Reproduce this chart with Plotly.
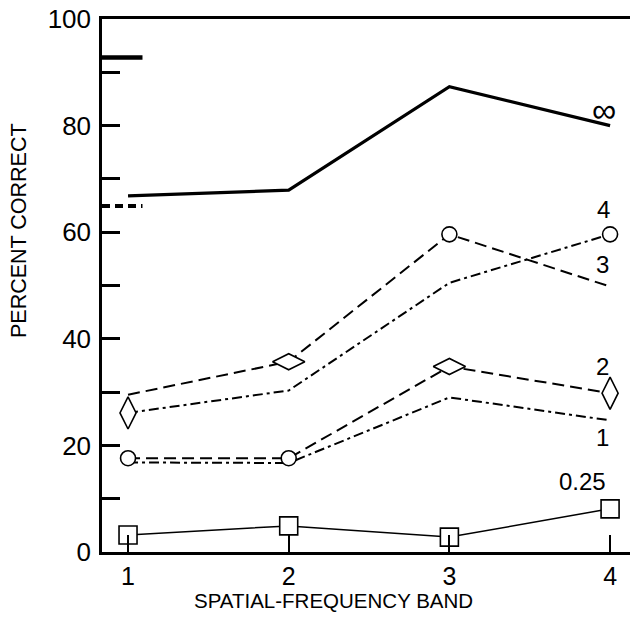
import plotly.graph_objects as go

bands = [1, 2, 3, 4]

# series values (percent correct)
inf_vals = [66.8, 67.9, 87.3, 80.0]
s3_vals = [29.5, 35.7, 59.6, 49.8]     # dashed, label "3"
s4_vals = [26.1, 30.3, 50.5, 59.6]     # dash-dot, label "4"
s2_vals = [17.6, 17.6, 34.8, 29.8]     # dashed, label "2"
s1_vals = [16.8, 16.7, 29.0, 24.7]     # dash-dot, label "1"
s025_vals = [3.2, 4.9, 2.8, 8.1]       # solid thin w/ squares, label "0.25"

# reference levels shown as short bars at the left
ref_solid = 92.8
ref_dashed = 64.9

series_labels = ["∞", "4", "3", "2", "1", "0.25"]
label_sizes = [34, 24, 24, 24, 24, 24]
label_y = [83.0, 64.3, 54.0, 34.8, 21.4, 13.2]
label_x = [3.96, 3.96, 3.95, 3.95, 3.95, 3.83]

y_tick_vals = list(range(0, 101, 10))
y_tick_text = [str(v) if v % 20 == 0 else "" for v in y_tick_vals]

XMIN, XMAX = 0.838, 4.124
FONT = "Liberation Sans, Arial, sans-serif"

fig = go.Figure()

def line(x, y, dash="solid", width=2.0):
    fig.add_trace(go.Scatter(x=x, y=y, mode="lines",
                             line=dict(color="black", width=width, dash=dash),
                             showlegend=False, hoverinfo="skip"))

def markers(idx, vals, symbol, size):
    fig.add_trace(go.Scatter(x=[bands[i] for i in idx], y=[vals[i] for i in idx],
                             mode="markers",
                             marker=dict(symbol=symbol, size=size, color="white",
                                         line=dict(color="black", width=1.6)),
                             showlegend=False, hoverinfo="skip", cliponaxis=False))

DASH = "12px,6px"
DASHDOT = "10px,4px,3px,4px"

line(bands, inf_vals, "solid", 3.2)
line(bands, s3_vals, DASH, 2.0)
line(bands, s4_vals, DASHDOT, 2.0)
line(bands, s2_vals, DASH, 2.0)
line(bands, s1_vals, DASHDOT, 2.0)
line(bands, s025_vals, "solid", 1.5)

# short reference bars
line([XMIN, 1.09], [ref_solid, ref_solid], "solid", 4.5)
line([XMIN, 1.09], [ref_dashed, ref_dashed], "8px,5px", 4.0)

# markers
markers([1], s3_vals, "diamond-wide", 23)
markers([2], s3_vals, "circle", 15)
markers([0], s4_vals, "diamond-tall", 23)
markers([3], s4_vals, "circle", 15)
markers([0, 1], s2_vals, "circle", 15)
markers([2], s2_vals, "diamond-wide", 23)
markers([3], s2_vals, "diamond-tall", 23)
markers([0, 1, 2, 3], s025_vals, "square", 18)

W, H = 630, 634
L, R, T, B = 102, 0, 19, 82
pw, ph = W - L - R, H - T - B

def px_to_paper(x, y):
    return (x - L) / pw, (H - B - y) / ph

annotations = []
for t, sz, xx, yy in zip(series_labels, label_sizes, label_x, label_y):
    annotations.append(dict(x=xx, y=yy, xref="x", yref="y", text=t, showarrow=False,
                            font=dict(family=FONT, size=sz, color="black"),
                            xanchor="center", yanchor="middle"))
tx, ty = px_to_paper(333, 600)
annotations.append(dict(x=tx, y=ty, xref="paper", yref="paper", text="SPATIAL-FREQUENCY BAND",
                        showarrow=False, xanchor="center", yanchor="middle",
                        font=dict(family=FONT, size=20.5, color="black")))
tx, ty = px_to_paper(19, 231)
annotations.append(dict(x=tx, y=ty, xref="paper", yref="paper", text="PERCENT CORRECT",
                        textangle=-90, showarrow=False, xanchor="center", yanchor="middle",
                        font=dict(family=FONT, size=21.5, color="black")))

fig.update_layout(
    width=W, height=H,
    margin=dict(l=L, r=R, t=T, b=B, pad=0, autoexpand=False),
    plot_bgcolor="white", paper_bgcolor="white",
    annotations=annotations,
    xaxis=dict(range=[XMIN, XMAX], tickvals=bands, ticktext=[str(b) for b in bands],
               ticks="inside", ticklen=17, tickwidth=2, tickcolor="black",
               showline=True, linewidth=2.5, linecolor="black", mirror=True,
               showgrid=False, zeroline=False, automargin=False,
               ticklabeloverflow="allow",
               tickfont=dict(family=FONT, size=25, color="black")),
    yaxis=dict(range=[0, 100], tickvals=y_tick_vals, ticktext=y_tick_text,
               ticks="inside", ticklen=18, tickwidth=2.5, tickcolor="black",
               showline=True, linewidth=2.5, linecolor="black", mirror=False,
               showgrid=False, zeroline=False, ticklabelstandoff=3, automargin=False,
               ticklabeloverflow="allow",
               tickfont=dict(family=FONT, size=26, color="black")),
)

fig.write_html("out.html", config={"displayModeBar": False},
               post_script="document.body.style.margin='0';")
